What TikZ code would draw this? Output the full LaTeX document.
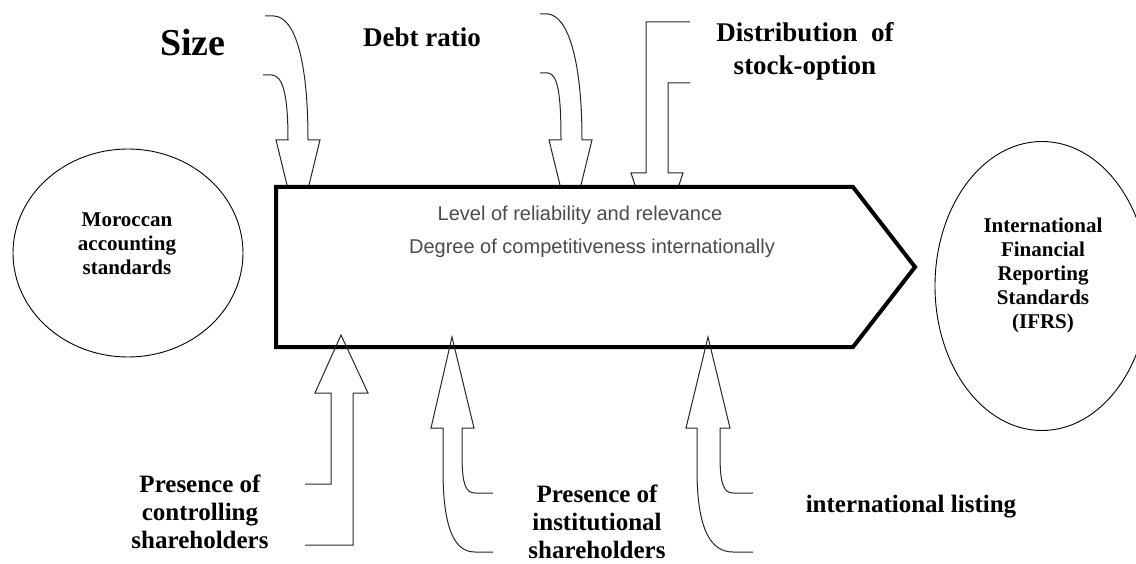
\documentclass[tikz,border=0pt]{standalone}
\usepackage{fontspec}
\setmainfont{Liberation Serif}
\newfontfamily\arialfont{Liberation Sans}
\usetikzlibrary{shapes.geometric}

\begin{document}
\begin{tikzpicture}[
    x=1pt, y=-1pt,
    standard/.style={
        ellipse,
        draw,
        line width=0.9pt,
        inner sep=0pt
    },
    stdlabel/.style={
        font=\bfseries\fontsize{21}{24}\selectfont,
        align=center
    },
    factor/.style={
        font=\bfseries\fontsize{27}{33}\selectfont,
        align=center
    },
    lowfactor/.style={
        font=\bfseries\fontsize{25}{28}\selectfont,
        align=center
    },
    quality/.style={
        font=\arialfont\fontsize{20}{33}\selectfont,
        text=black!70
    },
    blockarrow/.style={
        draw=black!85,
        line width=1pt,
        line join=miter
    },
    bar/.style={
        draw,
        fill=white,
        line width=4pt,
        line join=miter
    }
]
    % fixed frame, same proportions as the reference
    \useasboundingbox (0,0) rectangle (1136,564);

    % the two sets of standards
    \node (mas) [standard, minimum width=230pt, minimum height=208pt] at (128,253) {};
    \node (maslabel) [stdlabel] at (127,244) {Moroccan\\accounting\\standards};
    \node (ifrs) [standard, minimum width=214pt, minimum height=289pt] at (1042,286) {};
    \node (ifrslabel) [stdlabel] at (1043,275) {International\\Financial\\Reporting\\Standards\\(IFRS)};

    % arrows from above, their tips go under the bar
    \draw[blockarrow] (263,75) -- (272,75) .. controls (283,76) and (288,95) .. (288,140)
        -- (276,140) -- (298,230) -- (320,140) -- (308,140)
        .. controls (308,60) and (295,17) .. (274,16) -- (265,16);
    \draw[blockarrow] (540,73) -- (548,73) .. controls (558,74) and (561,95) .. (561,140)
        -- (549,140) -- (570.5,228) -- (592,140) -- (582,140)
        .. controls (582,60) and (568,16) .. (548,14) -- (540,14);
    \draw[blockarrow] (690,83) -- (668,83) -- (668,173) -- (683,173)
        -- (657,251) -- (631,173) -- (646,173) -- (646,22) -- (690,22);

    % the bar between the two
    \draw[bar] (276,187) -- (853,187) -- (915,267) -- (853,347) -- (276,347) -- cycle;
    \node (level) [quality] at (580,215) {Level of reliability and relevance};
    \node (degree) [quality] at (592,248) {Degree of competitiveness internationally};

    % arrows from below
    \draw[blockarrow] (305,484) -- (331,484) -- (331,393) -- (315,393) -- (341,335)
        -- (368,393) -- (353,393) -- (353,545) -- (305,545);
    \draw[blockarrow] (493,493) -- (475,493) .. controls (466,493) and (462,485) .. (462,455)
        -- (462,428) -- (474,428) -- (452,337) -- (431,428) -- (443,428) -- (443,470)
        .. controls (443,530) and (455,552) .. (475,552) -- (493,552);
    \draw[blockarrow] (753,493) -- (733,493) .. controls (724,493) and (720,485) .. (720,455)
        -- (720,428) -- (730,428) -- (708,337) -- (686,428) -- (697,428) -- (697,470)
        .. controls (697,530) and (711,552) .. (733,552) -- (753,552);

    % factors
    \node (size) [factor, font=\bfseries\fontsize{38}{44}\selectfont] at (193,43) {Size};
    \node (debt) [factor] at (422,37) {Debt ratio};
    \node (stock) [factor] at (805,51) {Distribution~ of\\stock-option};
    \node (control) [lowfactor] at (200,512) {Presence of\\controlling\\shareholders};
    \node (institution) [lowfactor] at (597,522) {Presence of\\institutional\\shareholders};
    \node (listing) [lowfactor] at (911,507) {international listing};

\end{tikzpicture}
\end{document}
